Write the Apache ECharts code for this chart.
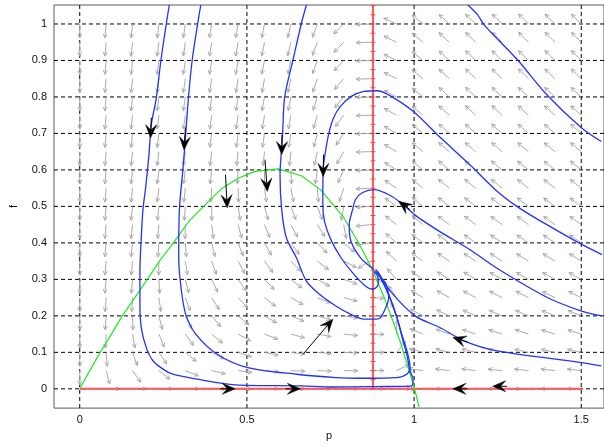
<!DOCTYPE html>
<html>
<head>
<meta charset="utf-8">
<script src="https://cdn.jsdelivr.net/npm/echarts@6/dist/echarts.min.js"></script>
<style>
  html, body { margin: 0; padding: 0; background: #fff; }
  #chart { width: 604px; height: 446px; }
</style>
</head>
<body>
<div id="chart"></div>
<script>
// tick labels
const xTicks = [0, 0.5, 1, 1.5];
const yTicks = [0, 0.1, 0.2, 0.3, 0.4, 0.5, 0.6, 0.7, 0.8, 0.9, 1];

// direction field grid (p columns, f rows), arrow angle in degrees
const fieldP = [0, 0.0789, 0.1579, 0.2368, 0.3158, 0.3947, 0.4737, 0.5526, 0.6316, 0.7105,
                0.7895, 0.8684, 0.9474, 1.0263, 1.1053, 1.1842, 1.2632, 1.3421, 1.4211, 1.5];
const fieldF = [0, 0.05, 0.1, 0.15, 0.2, 0.25, 0.3, 0.35, 0.4, 0.45, 0.5,
                0.55, 0.6, 0.65, 0.7, 0.75, 0.8, 0.85, 0.9, 0.95, 1];
const fieldAngle = [
  [null, 0, 0, 0, 0, 0, 0, 0, 0, 0, 0, 0, 0, 180, 180, 180, 180, 180, 180, 180],
  [-90, -75, -55, -38, -22, -13, -8, -5, -3, -2, -1, 0, 25, 172, 173, 173, 174, 174, 174, 174],
  [-90, -86, -70, -56, -40, -27, -18, -12, -8, -5, -3, 0, 50, 165, 166, 167, 167, 168, 168, 168],
  [-90, -93, -80, -68, -54, -40, -29, -21, -15, -10, -6, -1, 88, 158, 160, 161, 162, 162, 163, 163],
  [-90, -94, -88, -76, -63, -50, -39, -30, -22, -16, -10, -2, 112, 152, 155, 156, 157, 157, 158, 158],
  [-90, -94, -93, -82, -70, -58, -47, -38, -30, -22, -14, -3, 124, 148, 151, 152, 153, 153, 154, 154],
  [-90, -95, -95, -87, -76, -65, -55, -46, -38, -29, -19, -5, 131, 145, 148, 149, 150, 150, 151, 151],
  [-90, -95, -95, -91, -81, -71, -62, -54, -46, -37, -26, -150, 136, 143, 146, 147, 147, 148, 148, 148],
  [-90, -95, -96, -94, -86, -77, -69, -61, -54, -46, -40, -170, 139, 142, 144, 145, 145, 146, 146, 146],
  [-90, -95, -96, -95, -91, -83, -75, -68, -62, -58, -80, -174, 142, 141, 143, 143, 144, 144, 144, 144],
  [-90, -95, -96, -96, -94, -90, -81, -75, -70, -70, -100, -176, 144, 140, 142, 142, 142, 143, 143, 143],
  [-90, -95, -96, -97, -96, -94, -88, -82, -79, -85, -108, -177, 146, 140, 141, 141, 141, 142, 142, 142],
  [-90, -95, -96, -97, -97, -96, -93, -90, -88, -98, -114, -177, 148, 140, 140, 140, 140, 141, 141, 141],
  [-90, -95, -96, -97, -97, -97, -96, -96, -96, -102, -119, -178, 149, 140, 139, 139, 139, 140, 140, 140],
  [-90, -95, -96, -97, -98, -98, -97, -98, -99, -104, -123, -178, 150, 140, 138, 138, 138, 139, 139, 139],
  [-90, -95, -96, -97, -98, -98, -98, -99, -100, -106, -126, -178, 151, 140, 138, 137, 137, 138, 138, 138],
  [-90, -95, -96, -97, -98, -98, -99, -100, -101, -107, -129, -178, 152, 140, 137, 137, 136, 137, 137, 137],
  [-90, -95, -96, -97, -98, -99, -99, -100, -102, -108, -131, -178, 153, 140, 137, 136, 136, 136, 136, 136],
  [-90, -95, -96, -97, -98, -99, -100, -101, -102, -109, -133, -178, 154, 140, 137, 136, 136, 136, 135, 135],
  [-90, -95, -96, -97, -98, -99, -100, -101, -103, -110, -134, -178, 154, 140, 137, 136, 135, 135, 135, 135],
  [-90, -95, -96, -97, -98, -99, -100, -101, -103, -110, -135, -178, 155, 140, 137, 136, 135, 135, 135, 135]
];

// nullclines
const predP = 0.877;
const predMarks = [0, 0.025, 0.05, 0.075, 0.1, 0.125, 0.15, 0.175, 0.2, 0.225, 0.25, 0.275, 0.3,
                   0.325, 0.35, 0.375, 0.4, 0.425, 0.45, 0.475, 0.5, 0.525, 0.55, 0.575, 0.6,
                   0.625, 0.65, 0.675, 0.7, 0.725, 0.75, 0.775, 0.8, 0.825, 0.85, 0.875, 0.9,
                   0.925, 0.95, 0.975, 1, 1.025, 1.05];
const axisLineP = [0, 1.5];
const preyNullP = [0, 0.03, 0.061, 0.095, 0.127, 0.165, 0.202, 0.24, 0.28, 0.327, 0.387, 0.426,
                   0.475, 0.525, 0.594, 0.663, 0.72, 0.79, 0.84, 0.875, 0.909, 0.935, 0.959,
                   0.98, 1.0, 1.015];
const preyNullF = [0, 0.05, 0.1, 0.15, 0.2, 0.25, 0.3, 0.352, 0.4, 0.46, 0.515, 0.55,
                   0.578, 0.596, 0.603, 0.584, 0.546, 0.469, 0.39, 0.327, 0.254, 0.19, 0.128,
                   0.065, 0.005, -0.05];

// trajectories [p, f]
const trajLeft = [[0.268, 1.052], [0.263, 1.025], [0.243, 0.902], [0.229, 0.797], [0.214, 0.724],
  [0.207, 0.642], [0.197, 0.551], [0.189, 0.491], [0.184, 0.414], [0.180, 0.323], [0.180, 0.232],
  [0.184, 0.168], [0.199, 0.113], [0.219, 0.077], [0.249, 0.054], [0.278, 0.040], [0.347, 0.027],
  [0.465, 0.011], [0.663, 0.008], [0.751, 0.005], [0.870, 0.006], [0.973, 0.007], [0.993, 0.008],
  [0.997, 0.027], [0.988, 0.049], [0.978, 0.095], [0.964, 0.141], [0.949, 0.195], [0.924, 0.259],
  [0.899, 0.309], [0.885, 0.327]];
const trajSecond = [[0.362, 1.052], [0.357, 1.025], [0.337, 0.906], [0.325, 0.797], [0.316, 0.687],
  [0.308, 0.596], [0.298, 0.491], [0.296, 0.359], [0.303, 0.277], [0.317, 0.204], [0.347, 0.150],
  [0.411, 0.095], [0.500, 0.059], [0.648, 0.040], [0.766, 0.031], [0.850, 0.029], [0.949, 0.031],
  [0.978, 0.040], [0.988, 0.059], [0.979, 0.103], [0.964, 0.147], [0.950, 0.191], [0.926, 0.253],
  [0.902, 0.300], [0.888, 0.319]];
const trajThird = [[0.678, 1.052], [0.663, 1.002], [0.638, 0.902], [0.613, 0.801], [0.607, 0.705],
  [0.604, 0.661], [0.599, 0.587], [0.604, 0.491], [0.618, 0.414], [0.648, 0.359], [0.678, 0.295],
  [0.717, 0.259], [0.766, 0.227], [0.811, 0.204], [0.850, 0.191], [0.890, 0.191], [0.909, 0.210],
  [0.924, 0.251], [0.917, 0.286], [0.896, 0.311], [0.882, 0.322]];
const trajArch = [[1.562, 0.368], [1.501, 0.396], [1.397, 0.450], [1.314, 0.496], [1.249, 0.541],
  [1.166, 0.615], [1.077, 0.690], [0.998, 0.760], [0.929, 0.803], [0.890, 0.817], [0.850, 0.815],
  [0.811, 0.801], [0.778, 0.772], [0.758, 0.740], [0.745, 0.700], [0.735, 0.650], [0.728, 0.600],
  [0.727, 0.505], [0.732, 0.459], [0.751, 0.409], [0.781, 0.360], [0.817, 0.317], [0.855, 0.281],
  [0.876, 0.273], [0.893, 0.287], [0.891, 0.308], [0.879, 0.322]];
const trajSmallArch = [[1.562, 0.200], [1.501, 0.213], [1.397, 0.251], [1.254, 0.327], [1.166, 0.382],
  [1.077, 0.431], [1.009, 0.472], [0.967, 0.505], [0.929, 0.530], [0.880, 0.546], [0.846, 0.538],
  [0.825, 0.519], [0.816, 0.491], [0.806, 0.450], [0.811, 0.405], [0.840, 0.359], [0.880, 0.327]];
const trajLow = [[1.560, 0.063], [1.501, 0.072], [1.249, 0.104], [1.151, 0.131], [1.077, 0.168],
  [1.003, 0.200], [0.929, 0.268], [0.890, 0.323]];
const trajCorner = [[1.161, 1.052], [1.190, 1.025], [1.210, 0.997], [1.309, 0.902], [1.397, 0.806],
  [1.501, 0.715], [1.560, 0.678]];
const trajectories = [trajLeft, trajSecond, trajThird, trajArch, trajSmallArch, trajLow, trajCorner];

// black direction arrows [pTail, fTail, pTip, fTip]
const flowArrows = [
  [0.214, 0.743, 0.212, 0.688],
  [0.316, 0.716, 0.312, 0.655],
  [0.436, 0.587, 0.441, 0.496],
  [0.554, 0.628, 0.561, 0.541],
  [0.605, 0.696, 0.604, 0.642],
  [0.729, 0.642, 0.728, 0.582],
  [0.988, 0.491, 0.954, 0.514],
  [1.160, 0.128, 1.116, 0.141],
  [0.668, 0.095, 0.757, 0.191],
  [0.420, 0, 0.465, 0],
  [0.615, 0, 0.660, 0],
  [1.160, 0, 1.116, 0],
  [1.278, 0.007, 1.235, 0.007]
];

const fieldData = [];
fieldF.forEach(function (f, j) {
  fieldP.forEach(function (p, i) {
    const a = fieldAngle[j][i];
    if (a !== null) fieldData.push([p, f, a]);
  });
});

const font = "'Liberation Sans', Arial, sans-serif";
const chart = echarts.init(document.getElementById('chart'));

const series = [
  {
    type: 'custom',
    z: 1,
    silent: true,
    data: xTicks.map(function (v) { return [v, 0]; }),
    encode: { x: 0, y: 1 },
    renderItem: function (params, api) {
      const cs = params.coordSys;
      const x = api.coord([api.value(0), 0])[0];
      return { type: 'line', shape: { x1: x, y1: cs.y, x2: x, y2: cs.y + cs.height },
        style: { stroke: '#000', lineWidth: 1, lineDash: [4, 3] } };
    }
  },
  {
    type: 'custom',
    z: 1,
    silent: true,
    data: yTicks.map(function (v) { return [0, v]; }),
    encode: { x: 0, y: 1 },
    renderItem: function (params, api) {
      const cs = params.coordSys;
      const y = api.coord([0, api.value(1)])[1];
      return { type: 'line', shape: { x1: cs.x, y1: y, x2: cs.x + cs.width, y2: y },
        style: { stroke: '#000', lineWidth: 1, lineDash: [4, 3] } };
    }
  },
  {
    type: 'custom',
    z: 2,
    silent: true,
    data: fieldData,
    encode: { x: 0, y: 1 },
    renderItem: function (params, api) {
      const base = api.coord([api.value(0), api.value(1)]);
      const a = api.value(2) * Math.PI / 180;
      const len = 14, head = 4.5, spread = 0.45;
      const tip = [base[0] + len * Math.cos(a), base[1] - len * Math.sin(a)];
      const back = a + Math.PI;
      const h1 = [tip[0] + head * Math.cos(back - spread), tip[1] - head * Math.sin(back - spread)];
      const h2 = [tip[0] + head * Math.cos(back + spread), tip[1] - head * Math.sin(back + spread)];
      return { type: 'group', children: [
        { type: 'line', shape: { x1: base[0], y1: base[1], x2: tip[0], y2: tip[1] },
          style: { stroke: '#ababab', lineWidth: 1 } },
        { type: 'polyline', shape: { points: [h1, tip, h2] },
          style: { stroke: '#ababab', lineWidth: 1, fill: null } }
      ] };
    }
  },
  {
    type: 'line',
    z: 3,
    silent: true,
    data: predMarks.map(function (f) { return [predP, f]; }),
    symbol: 'rect',
    symbolSize: [5, 1],
    showSymbol: true,
    itemStyle: { color: '#ff4040' },
    lineStyle: { color: '#ff5555', width: 2 }
  },
  {
    type: 'line',
    z: 3,
    silent: true,
    data: axisLineP.map(function (p) { return [p, 0]; }),
    showSymbol: false,
    lineStyle: { color: '#ff5555', width: 2 }
  },
  {
    type: 'line',
    z: 3,
    silent: true,
    data: preyNullP.map(function (p, i) { return [p, preyNullF[i]]; }),
    showSymbol: false,
    lineStyle: { color: '#22e822', width: 1.2 }
  }
];

trajectories.forEach(function (t) {
  series.push({
    type: 'line',
    z: 4,
    silent: true,
    smooth: 0.3,
    data: t,
    showSymbol: false,
    lineStyle: { color: '#2233ff', width: 1.3 }
  });
});

series.push({
  type: 'custom',
  z: 5,
  silent: true,
  data: flowArrows,
  encode: { x: [0, 2], y: [1, 3] },
  renderItem: function (params, api) {
    const t0 = api.coord([api.value(0), api.value(1)]);
    const t1 = api.coord([api.value(2), api.value(3)]);
    const dx = t1[0] - t0[0], dy = t1[1] - t0[1];
    const d = Math.sqrt(dx * dx + dy * dy) || 1;
    const ux = dx / d, uy = dy / d, nx = -uy, ny = ux;
    const L = 13, W = 5.5;
    const neck = [t1[0] - ux * L * 0.6, t1[1] - uy * L * 0.6];
    const b1 = [t1[0] - ux * L + nx * W, t1[1] - uy * L + ny * W];
    const b2 = [t1[0] - ux * L - nx * W, t1[1] - uy * L - ny * W];
    return { type: 'group', children: [
      { type: 'line', shape: { x1: t0[0], y1: t0[1], x2: neck[0], y2: neck[1] },
        style: { stroke: '#000', lineWidth: 1 } },
      { type: 'polygon', shape: { points: [t1, b1, neck, b2] },
        style: { fill: '#000', stroke: '#000', lineWidth: 0.5 } }
    ] };
  }
});

chart.setOption({
  animation: false,
  backgroundColor: '#fff',
  grid: { left: 50, top: 5, right: -2, bottom: 37, show: true, borderColor: '#5a5a5a', borderWidth: 1, backgroundColor: '#fff' },
  xAxis: {
    type: 'value', min: -0.077, max: 1.568,
    name: 'p', nameLocation: 'middle', nameGap: 21,
    nameTextStyle: { fontFamily: font, fontSize: 11, color: '#111' },
    axisLine: { show: false }, axisTick: { show: false }, splitLine: { show: false },
    axisLabel: { customValues: xTicks, fontFamily: font, fontSize: 11, color: '#111', margin: 6 }
  },
  yAxis: {
    type: 'value', min: -0.0528, max: 1.052,
    name: 'f', nameLocation: 'middle', nameGap: 35,
    nameTextStyle: { fontFamily: font, fontSize: 11, color: '#111' },
    axisLine: { show: false }, axisTick: { show: false }, splitLine: { show: false },
    axisLabel: { customValues: yTicks, fontFamily: font, fontSize: 11, color: '#111', margin: 7 }
  },
  series: series
});
</script>
</body>
</html>
